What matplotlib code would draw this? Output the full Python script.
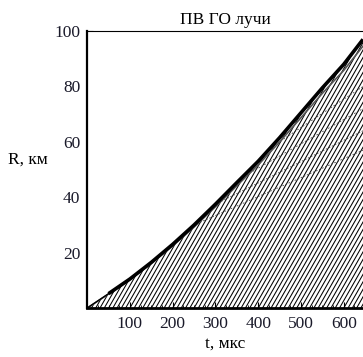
import matplotlib
matplotlib.use("Agg")
import matplotlib.pyplot as plt
from matplotlib.ticker import MultipleLocator, FixedLocator

# Envelope (front) of the ray family
env_t = [0, 50, 100, 150, 200, 250, 300, 350, 400, 450, 500, 550, 600, 645]
env_R = [0, 5.2, 10.5, 16.5, 23.0, 30.0, 37.5, 45.3, 53.0, 61.5, 70.5, 79.5, 88.0, 97.0]

# Ray start times (R = 0) and common ray slope, km per mks
ray_t0 = [0, 10, 20, 30, 40, 50, 60, 70, 80, 90, 100, 110, 120, 130, 140, 150,
          160, 170, 180, 190, 200, 210, 220, 230, 240, 250, 260, 270, 280, 290,
          300, 310, 320, 330, 340, 350, 360, 370, 380, 390, 400, 410, 420, 430,
          440, 450, 460, 470, 480, 490, 500, 510, 520, 530, 540, 550, 560, 570,
          580, 590, 600, 610, 620, 630, 640, 650]
ray_slope = 0.27

# Shallower rays branching off the front (t start, R start, t end, R end)
fan_t_start = [250, 300, 360, 420]
fan_R_start = [30.0, 37.5, 47.0, 57.0]
fan_t_end = [645, 645, 645, 645]
fan_R_end = [57, 64, 72, 80]

xticks = [100, 200, 300, 400, 500, 600]
yticks = [20, 40, 60, 80, 100]

serif = ["Liberation Serif", "DejaVu Serif"]
plt.rcParams["font.family"] = serif

fig = plt.figure(figsize=(3.63, 3.57), dpi=100)
ax = fig.add_axes([0.240, 0.137, 0.760, 0.776])

for t0 in ray_t0:
    t1 = t0 + 110 / ray_slope
    ax.plot([t0, t1], [0, 110], color="black", lw=0.75, zorder=1,
            solid_capstyle="butt")

for ts, rs, te, re in zip(fan_t_start, fan_R_start, fan_t_end, fan_R_end):
    ax.plot([ts, te], [rs, re], color="#444444", lw=0.6, ls=(0, (2, 2)), zorder=2)

# blank out the region ahead of the front
ax.fill_between(env_t, env_R, 110, color="white", zorder=3, lw=0)
ax.plot(env_t, [r * 0.975 for r in env_R], color="#555555", lw=1.2, zorder=4)
# thin front near the origin, thick further on
ax.plot(env_t[:2], env_R[:2], color="black", lw=1.0, zorder=5)
ax.plot(env_t[1:], env_R[1:], color="black", lw=2.6, zorder=5,
        solid_capstyle="butt")

ax.set_xlim(0, 645)
ax.set_ylim(0, 100)
ax.xaxis.set_major_locator(FixedLocator(xticks))
ax.yaxis.set_major_locator(FixedLocator(yticks))
ax.xaxis.set_minor_locator(MultipleLocator(25))
ax.yaxis.set_minor_locator(MultipleLocator(5))
ax.tick_params(axis="both", which="both", direction="in", top=True,
               right=False, labelsize=12.5, color="black", labelcolor="#1a1a2a")
ax.tick_params(which="major", length=4, width=0.8)
ax.tick_params(which="minor", length=2, width=0.6)
ax.tick_params(axis="x", pad=6)
ax.tick_params(axis="y", pad=5)

ax.spines["right"].set_visible(False)
ax.spines["left"].set_linewidth(1.6)
ax.spines["bottom"].set_linewidth(2.0)
ax.spines["top"].set_linewidth(0.8)
for s in ax.spines.values():
    s.set_zorder(6)

ax.set_title("ПВ ГО лучи", fontsize=12.5, pad=5)
ax.set_xlabel("t, мкс", fontsize=12.5, labelpad=2)
fig.text(0.022, 0.552, "R, км", fontsize=12.5, ha="left", va="center")

fig.savefig("out.png", dpi=100)
